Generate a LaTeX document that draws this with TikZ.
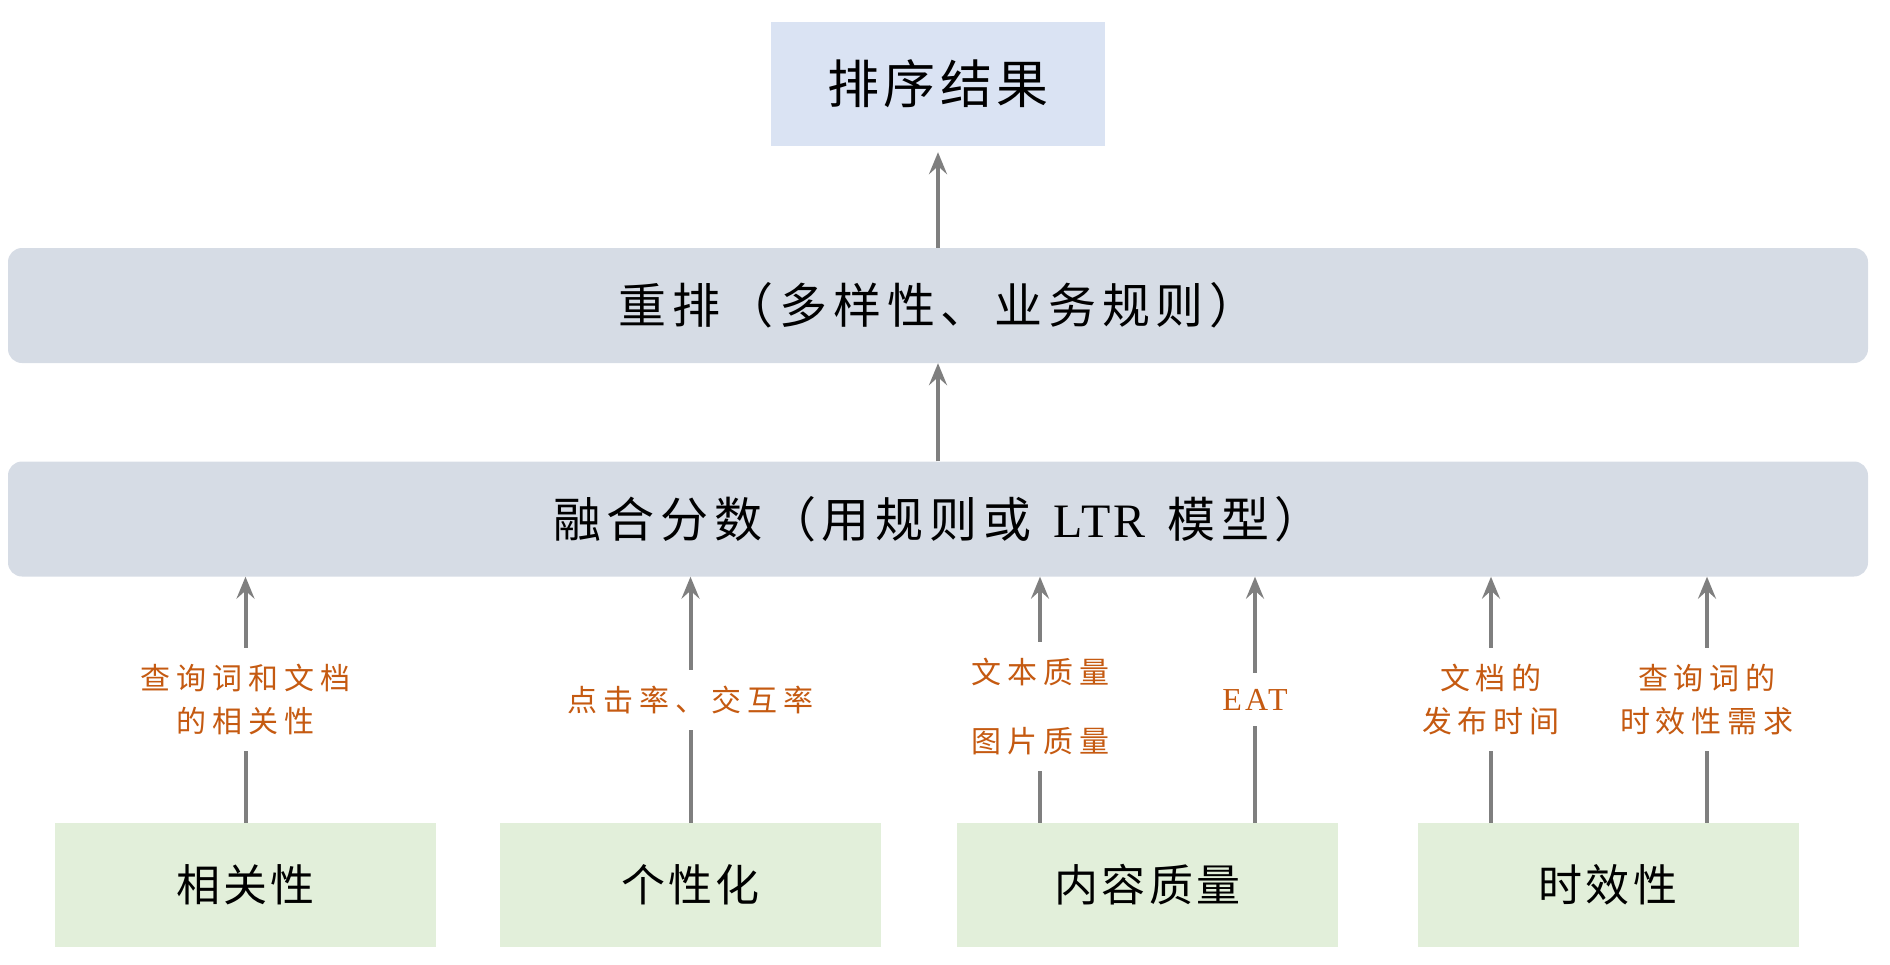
\documentclass[tikz,border=0pt]{standalone}
\usepackage{fontspec}
\newfontfamily\cjk{Noto Sans CJK SC}
\newfontfamily\lat{Liberation Serif}
\usetikzlibrary{arrows.meta}
\definecolor{resultfill}{HTML}{DAE3F3}
\definecolor{barfill}{HTML}{D6DCE5}
\definecolor{factorfill}{HTML}{E2EFDA}
\definecolor{labelorange}{HTML}{C55A11}
\definecolor{flowgray}{HTML}{7F7F7F}

\begin{document}
\begin{tikzpicture}[x=1pt, y=-1pt, >={Stealth[length=22pt,width=18pt,inset=8pt]},
    resbox/.style={fill=resultfill, minimum width=334pt, minimum height=124pt, inner sep=0pt,
        font=\cjk\addfontfeature{LetterSpace=8}\fontsize{52}{60}\selectfont},
    bar/.style={fill=barfill, rounded corners=14pt, minimum width=1860pt, minimum height=115pt, inner sep=0pt,
        font=\cjk\addfontfeature{LetterSpace=12}\fontsize{48}{58}\selectfont},
    factor/.style={fill=factorfill, minimum width=381pt, minimum height=124pt, inner sep=0pt,
        font=\cjk\addfontfeature{LetterSpace=7}\fontsize{44}{52}\selectfont},
    flow/.style={->, flowgray, line width=4pt},
    lbl/.style={fill=white, text=labelorange, align=center, inner xsep=2pt, inner ysep=16pt,
        font=\cjk\addfontfeature{LetterSpace=20}\fontsize{30}{43}\selectfont}]
    \useasboundingbox (0,0) rectangle (1890,964);
    \node[resbox] (result) at (938,84) {排序结果};
    \node[bar] (rerank) at (938,305.5) {重排（多样性、业务规则）};
    \node[bar] (fusion) at (938,519) {融合分数（用规则或\hspace{22pt}{\lat\addfontfeature{LetterSpace=6}LTR}\hspace{22pt}模型）};
    \node[factor] (rel) at (245.5,885) {相关性};
    \node[factor] (pers) at (690.5,885) {个性化};
    \node[factor] (quality) at (1147.5,885) {内容质量};
    \node[factor] (fresh) at (1608,885) {时效性};
    \coordinate (q1) at ([xshift=-107.5pt]quality.north);
    \coordinate (q2) at ([xshift=107.5pt]quality.north);
    \coordinate (f1) at ([xshift=-117pt]fresh.north);
    \coordinate (f2) at ([xshift=99pt]fresh.north);
    \draw[flow, shorten >=6pt] (rerank.north) -- (result.south);
    \draw[flow] (fusion.north) -- (rerank.south);
    \draw[flow] (rel.north) -- node[lbl] (lrel) {查询词和文档\\的相关性} (rel.north |- fusion.south);
    \draw[flow] (pers.north) -- node[lbl] (lpers) {点击率、交互率} (pers.north |- fusion.south);
    \draw[flow] (q1) -- node[lbl, yshift=-7pt] (lq1) {文本质量\\[26pt]图片质量} (q1 |- fusion.south);
    \draw[flow] (q2) -- node[lbl, font=\lat\addfontfeature{LetterSpace=10}\fontsize{32}{36}\selectfont] (lq2) {EAT} (q2 |- fusion.south);
    \draw[flow] (f1) -- node[lbl] (lf1) {文档的\\发布时间} (f1 |- fusion.south);
    \draw[flow] (f2) -- node[lbl] (lf2) {查询词的\\时效性需求} (f2 |- fusion.south);
\end{tikzpicture}
\end{document}
